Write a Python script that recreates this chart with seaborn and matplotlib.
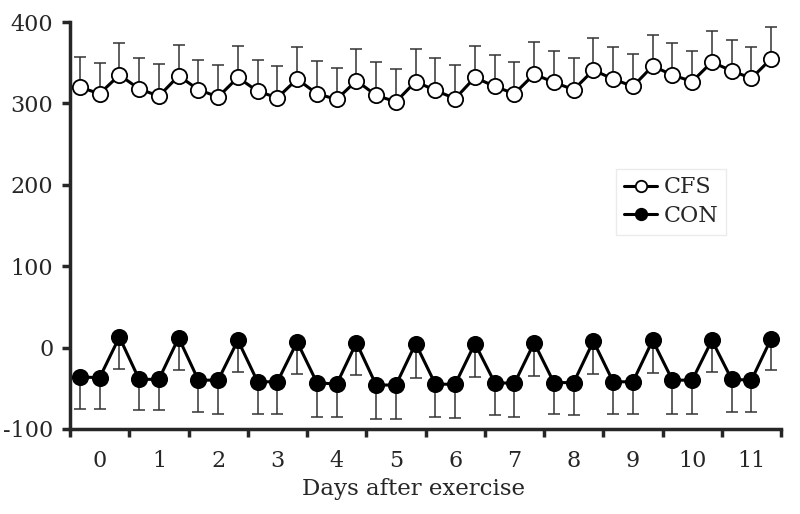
import numpy as np
import pandas as pd
import seaborn as sns
from matplotlib import pyplot as plt

# three measurements per day, days 0..11
days = list(range(12))
cfs_mean = [320, 312, 335, 318, 309, 334, 317, 308, 332, 315, 307, 330,
            312, 305, 328, 310, 302, 327, 316, 306, 332, 321, 312, 336,
            326, 317, 341, 330, 321, 346, 335, 327, 351, 340, 331, 355]
cfs_err = [37, 38, 39, 38, 40, 38, 37, 39, 39, 38, 39, 39,
           40, 39, 39, 41, 40, 40, 40, 41, 39, 39, 39, 39,
           39, 39, 39, 39, 40, 38, 39, 38, 38, 38, 38, 39]
con_mean = [-36, -37, 13, -39, -39, 12, -40, -40, 9, -42, -42, 7,
            -43, -45, 6, -46, -46, 5, -45, -45, 5, -43, -44, 6,
            -43, -43, 8, -42, -42, 9, -40, -40, 9, -39, -40, 11]
con_err = [39, 39, 39, 38, 38, 39, 39, 41, 39, 40, 40, 40,
           42, 40, 40, 42, 42, 42, 40, 42, 41, 40, 41, 41,
           39, 40, 41, 40, 40, 40, 41, 41, 39, 40, 39, 39]

n = len(cfs_mean)
x = np.arange(n) / 3 + 1 / 6
df = pd.DataFrame({
    "x": np.concatenate([x, x]),
    "value": cfs_mean + con_mean,
    "group": ["CFS"] * n + ["CON"] * n,
})

sns.set_style("ticks")
plt.rcParams["font.family"] = ["DejaVu Serif"]
plt.rcParams["axes.unicode_minus"] = False

fig = plt.figure(figsize=(8, 5.14), dpi=100)
ax = fig.add_axes([0.0875, 0.1654, 0.8888, 0.7916])

# error bars: CFS up only, CON down only
ax.errorbar(x, cfs_mean, yerr=[np.zeros(n), cfs_err], fmt="none",
            ecolor="#333333", elinewidth=1.1, capsize=4, capthick=1.1, zorder=1)
ax.errorbar(x, con_mean, yerr=[con_err, np.zeros(n)], fmt="none",
            ecolor="#333333", elinewidth=1.1, capsize=4, capthick=1.1, zorder=1)

sns.lineplot(data=df[df.group == "CFS"], x="x", y="value", ax=ax,
             color="black", lw=2.2, marker="o", markersize=11,
             markerfacecolor="white", markeredgecolor="black",
             markeredgewidth=1.3, label="CFS", zorder=3)
sns.lineplot(data=df[df.group == "CON"], x="x", y="value", ax=ax,
             color="black", lw=2.2, marker="o", markersize=11,
             markerfacecolor="black", markeredgecolor="black",
             markeredgewidth=1.3, label="CON", zorder=3)

ax.set_xlim(0, 12)
ax.set_ylim(-100, 400)
ax.set_yticks([-100, 0, 100, 200, 300, 400])
ax.set_xticks(range(13))
ax.set_xticklabels([])
ax.set_xticks([d + 0.5 for d in days], minor=True)
ax.set_xticklabels([str(d) for d in days], minor=True)
ax.tick_params(axis="x", which="minor", length=0, pad=15, labelsize=16)
ax.tick_params(axis="both", which="major", length=6, width=2.5,
               direction="out", labelsize=16)
ax.tick_params(axis="y", pad=6)
for s in ["left", "bottom"]:
    ax.spines[s].set_linewidth(2.5)
sns.despine(ax=ax)

ax.set_xlabel("Days after exercise", fontsize=16.5, labelpad=0)
ax.xaxis.set_label_coords(0.483, -0.12)
ax.set_ylabel("")

leg = ax.legend(loc="upper left", bbox_to_anchor=(0.768, 0.64),
                fontsize=16, frameon=True, fancybox=False,
                handlelength=1.5, markerscale=0.75, borderpad=0.35,
                labelspacing=0.3, handletextpad=0.3, borderaxespad=0)
leg.get_frame().set_edgecolor("#e6e6e6")
leg.get_frame().set_linewidth(1.0)

fig.savefig("out.png", dpi=100)
